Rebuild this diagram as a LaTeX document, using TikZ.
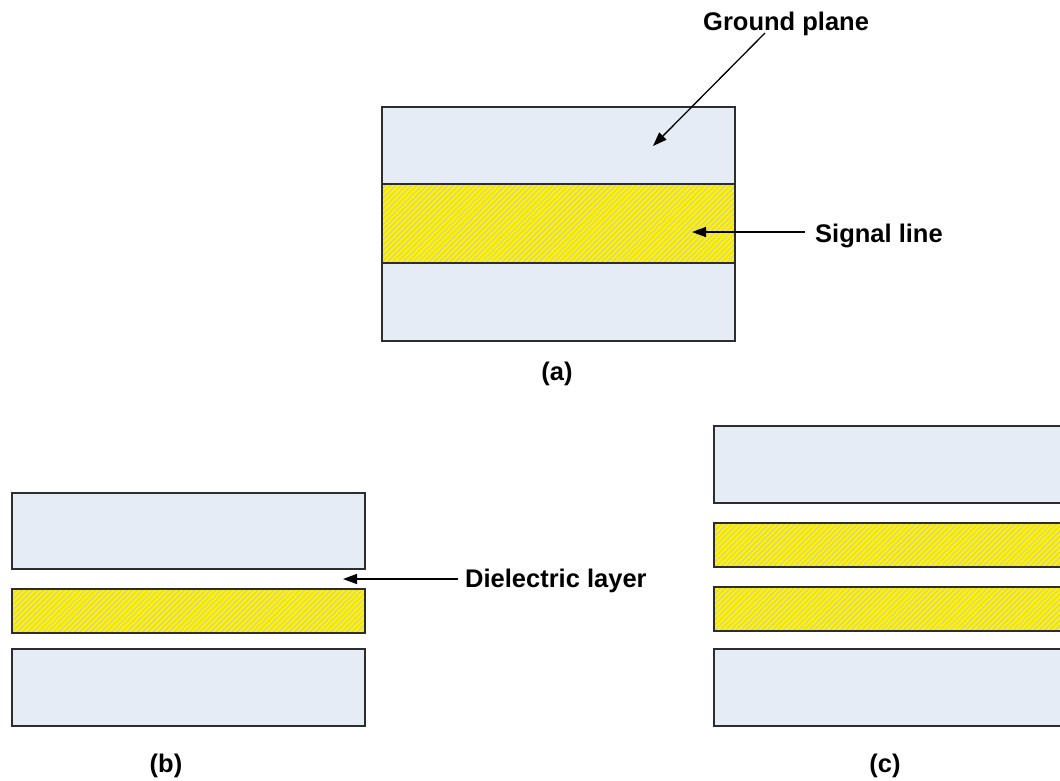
\documentclass[tikz,border=0pt]{standalone}
\usepackage{fontspec}
\setmainfont{Liberation Sans}
\usetikzlibrary{arrows.meta,patterns.meta}
\definecolor{plane}{RGB}{230,236,246}
\definecolor{edge}{RGB}{45,45,45}
\definecolor{hatch}{RGB}{200,200,185}
\tikzset{
  groundbox/.style={draw=edge,line width=1.1pt,fill=plane},
  signalbox/.style={draw=edge,line width=1.1pt,preaction={fill=yellow},
    pattern={Lines[angle=45,distance=3.7pt,line width=0.8pt]},pattern color=hatch},
  lbl/.style={font=\bfseries\fontsize{25.5}{30}\selectfont,inner sep=0pt},
  arr/.style={-{Triangle[length=14pt,width=10pt]},line width=1.3pt,black}
}
\begin{document}
\begin{tikzpicture}[x=1pt,y=-1pt]
\useasboundingbox (0,0) rectangle (1060,780);
\clip (0,0) rectangle (1060,780);
% panel (a)
\draw[groundbox] (382,107) rectangle (735,184);
\draw[groundbox] (382,263) rectangle (735,341);
\draw[signalbox,line width=2pt] (382,184) rectangle (735,263);
% panel (b)
\draw[groundbox] (12,493) rectangle (365,569);
\draw[signalbox] (12,589) rectangle (365,633);
\draw[groundbox] (12,649) rectangle (365,726);
% panel (c)
\draw[groundbox] (714,426) rectangle (1070,503);
\draw[signalbox] (714,523) rectangle (1070,567);
\draw[signalbox] (714,587) rectangle (1070,631);
\draw[groundbox] (714,649) rectangle (1070,726);
% labels
\node[lbl,anchor=base west] (gp) at (703,30) {Ground plane};
\node[lbl,anchor=base west] (sl) at (815,242) {Signal line};
\node[lbl,anchor=base west] (dl) at (465,587) {Dielectric layer};
\node[lbl,anchor=base] (la) at (557,380) {(a)};
\node[lbl,anchor=base] (lb) at (166,772) {(b)};
\node[lbl,anchor=base] (lc) at (885,772) {(c)};
% arrows
\coordinate (gpStart) at (765,33);
\coordinate (gpTip) at (653,146);
\coordinate (slStart) at (805,232);
\coordinate (slTip) at (692,232);
\coordinate (dlStart) at (458,579);
\coordinate (dlTip) at (343,579);
\draw[arr] (gpStart) -- (gpTip);
\draw[arr] (slStart) -- (slTip);
\draw[arr] (dlStart) -- (dlTip);
\end{tikzpicture}
\end{document}
